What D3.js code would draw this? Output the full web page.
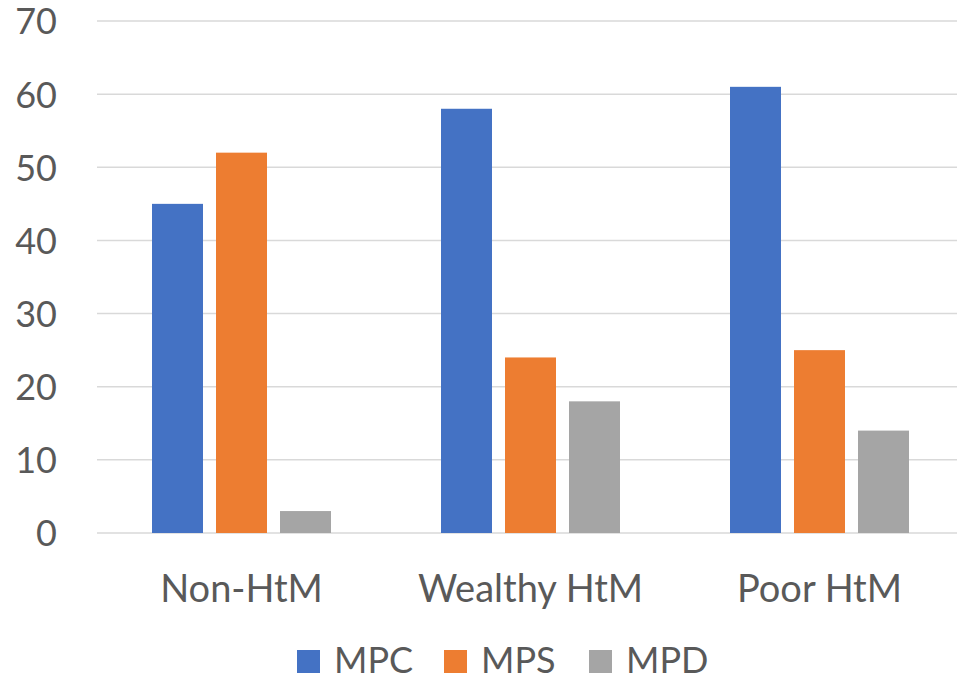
<!DOCTYPE html>
<html>
<head>
<meta charset="utf-8">
<script src="https://cdn.jsdelivr.net/npm/d3@7"></script>
<style>
  html, body { margin: 0; padding: 0; background: #fff; }
  svg { display: block; font-family: Lato, "Open Sans", sans-serif; }
</style>
</head>
<body>
<svg id="chart" width="957" height="678"></svg>
<script>
// Household groups and the three marginal propensities (in %)
const categories = ["Non-HtM", "Wealthy HtM", "Poor HtM"];
const seriesNames = ["MPC", "MPS", "MPD"];
const mpc = [45, 58, 61];
const mps = [52, 24, 25];
const mpd = [3, 18, 14];
const yTicks = [0, 10, 20, 30, 40, 50, 60, 70];
const colors = ["#4472C4", "#ED7D31", "#A5A5A5"];

const seriesValues = [mpc, mps, mpd];

const svg = d3.select("#chart");
const textColor = "#595959";

const plot = { left: 97, right: 964, top: 21, bottom: 533 };

const y = d3.scaleLinear().domain([0, 70]).range([plot.bottom, plot.top]);

const x0 = d3.scaleBand().domain(categories).range([plot.left, plot.right]).padding(0);

// bars in a group: 51px wide, 13px apart, 179px in total
const groupWidth = 179;
const x1 = d3.scaleBand().domain(seriesNames).range([0, groupWidth])
  .paddingInner(13 / 64).paddingOuter(0);

// gridlines
const grid = svg.append("g");
grid.selectAll("line").data(yTicks).join("line")
  .attr("x1", plot.left).attr("x2", plot.right)
  .attr("y1", d => y(d)).attr("y2", d => y(d))
  .attr("stroke", "#d9d9d9").attr("stroke-width", 1.5);

// y axis labels
const yAxis = d3.axisLeft(y).tickValues(yTicks).tickSize(0).tickPadding(0);
const yg = svg.append("g").attr("transform", "translate(57,0)").call(yAxis);
yg.select(".domain").remove();
yg.selectAll("text")
  .attr("fill", textColor).attr("font-size", 36)
  .attr("font-family", "Lato, 'Open Sans', sans-serif")
  .attr("dy", "0.36em");

// bars
const groups = svg.append("g").selectAll("g").data(categories).join("g")
  .attr("transform", d => `translate(${x0(d) + (x0.bandwidth() - groupWidth) / 2},0)`);

groups.selectAll("rect")
  .data((c, i) => seriesNames.map((s, j) => ({ s, v: seriesValues[j][i], color: colors[j] })))
  .join("rect")
  .attr("x", d => x1(d.s))
  .attr("width", x1.bandwidth())
  .attr("y", d => y(d.v))
  .attr("height", d => y(0) - y(d.v))
  .attr("fill", d => d.color);

// category labels
const xAxis = d3.axisBottom(x0).tickSize(0).tickPadding(0);
const xg = svg.append("g").attr("transform", "translate(0,602)").call(xAxis);
xg.select(".domain").remove();
xg.selectAll("text")
  .attr("fill", textColor).attr("font-size", 38)
  .attr("font-family", "Lato, 'Open Sans', sans-serif")
  .attr("dy", 0).attr("y", 0);

// legend
const legendX = [297, 444, 589];
const legend = svg.append("g").selectAll("g").data(seriesNames).join("g")
  .attr("transform", (d, i) => `translate(${legendX[i]},0)`);
legend.append("rect")
  .attr("x", 0).attr("y", 650).attr("width", 23).attr("height", 23)
  .attr("fill", (d, i) => colors[i]);
legend.append("text")
  .attr("x", 37).attr("y", 673)
  .attr("fill", textColor).attr("font-size", 36)
  .text(d => d);
</script>
</body>
</html>
